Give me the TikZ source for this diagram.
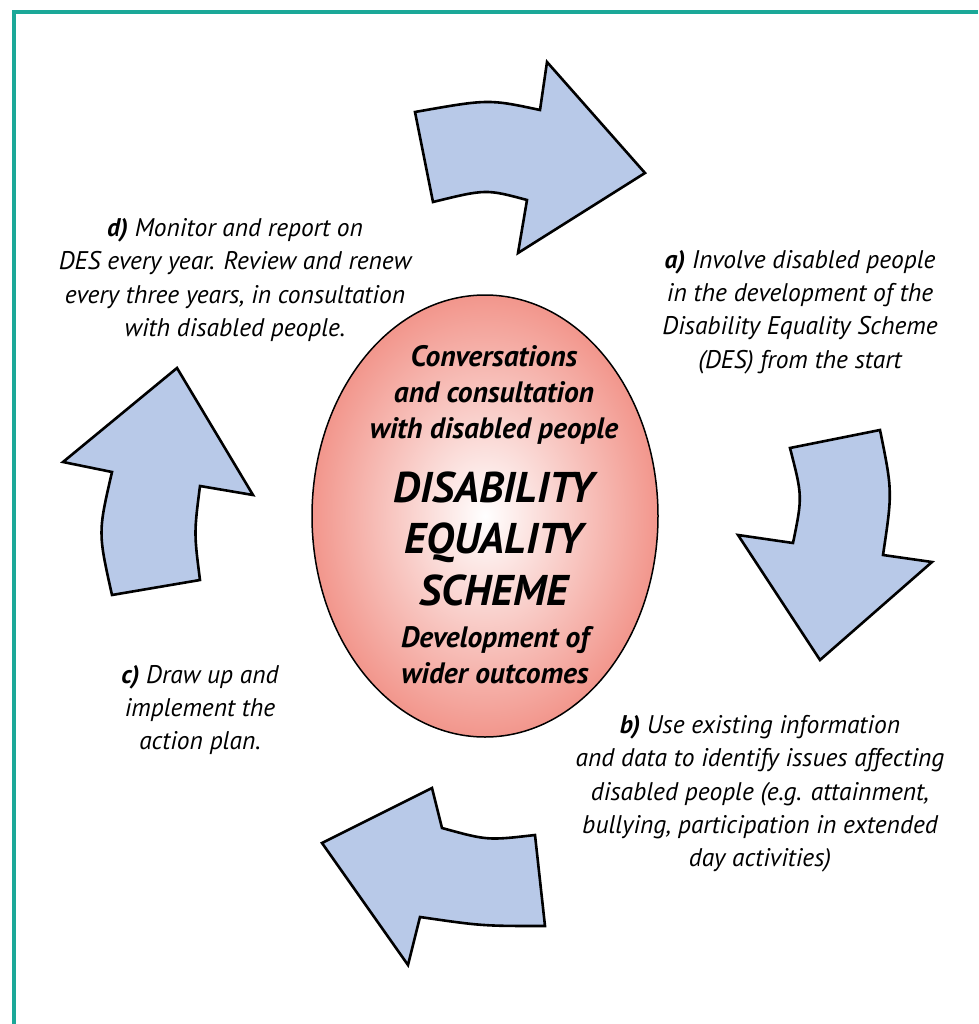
\documentclass[tikz,border=0pt]{standalone}
\usepackage{fontspec}
\setmainfont{PT Sans}
\definecolor{framecol}{RGB}{27,168,152}
\definecolor{arrowblue}{RGB}{184,201,232}
\definecolor{salmon}{RGB}{242,150,140}
\begin{document}
\begin{tikzpicture}[x=1pt,y=-1pt,
  blockarrow/.style={draw=black, line width=2.6pt, fill=arrowblue, line join=miter, miter limit=20},
  stagetext/.style={align=center, inner sep=0pt, font=\itshape\fontsize{25.5}{33.3}\selectfont},
  hubsmall/.style={align=center, inner sep=0pt, font=\bfseries\itshape\fontsize{29.5}{36}\selectfont},
  hubbig/.style={align=center, inner sep=0pt, font=\bfseries\itshape\fontsize{43}{51.5}\selectfont}]
\useasboundingbox (0,0) rectangle (978,1024);
\fill[white] (0,0) rectangle (978,1024);
% frame
\draw[framecol, line width=4pt] (13.7,1024) -- (13.7,12) -- (978,12);
% top arrow
\draw[blockarrow] (415,112) .. controls (488.5,99) .. (540,110) -- (547,62) -- (645,173)
  -- (518,253) -- (527,200) .. controls (486,189) .. (433,202) -- cycle;
% right arrow
\draw[blockarrow] (790,448) -- (880,430) .. controls (892.5,491.5) .. (883,555) -- (932,562)
  -- (820,660) -- (738,535) -- (793,543) .. controls (802.5,496.5) .. cycle;
% bottom arrow
\draw[blockarrow] (535,835) -- (545,926) .. controls (482,926) .. (420,917) -- (408,965)
  -- (322,843) -- (432,788) -- (442,828) .. controls (487.5,840.5) .. cycle;
% left arrow
\draw[blockarrow] (177,368) -- (253,495) -- (200,486) .. controls (194,533) .. (200,580)
  -- (112,595) .. controls (98,532.5) .. (112,472) -- (63,462) -- cycle;
% hub
\draw[line width=1.5pt, inner color=white, outer color=salmon] (485,516) ellipse [x radius=173, y radius=221];
\node[hubsmall] (conv) at (494,395) {Conversations\\and consultation\\with disabled people};
\node[hubbig] (title) at (494,538.5) {DISABILITY\\EQUALITY\\SCHEME};
\node[hubsmall] (dev) at (495,655) {Development of\\wider outcomes};
% stage texts
\node[stagetext] (a) at (800,312) {\textbf{a)} Involve disabled people\\in the development of the\\Disability Equality Scheme\\(DES) from the start};
\node[stagetext] (b) at (760,794) {\textbf{b)} Use existing information\\and data to identify issues affecting\\disabled people (e.g. attainment,\\bullying, participation in extended\\day activities)};
\node[stagetext] (c) at (200,710) {\textbf{c)} Draw up and\\implement the\\action plan.};
\node[stagetext] (d) at (235,280) {\textbf{d)} Monitor and report on\\DES every year. Review and renew\\every three years, in consultation\\with disabled people.};
\end{tikzpicture}
\end{document}
